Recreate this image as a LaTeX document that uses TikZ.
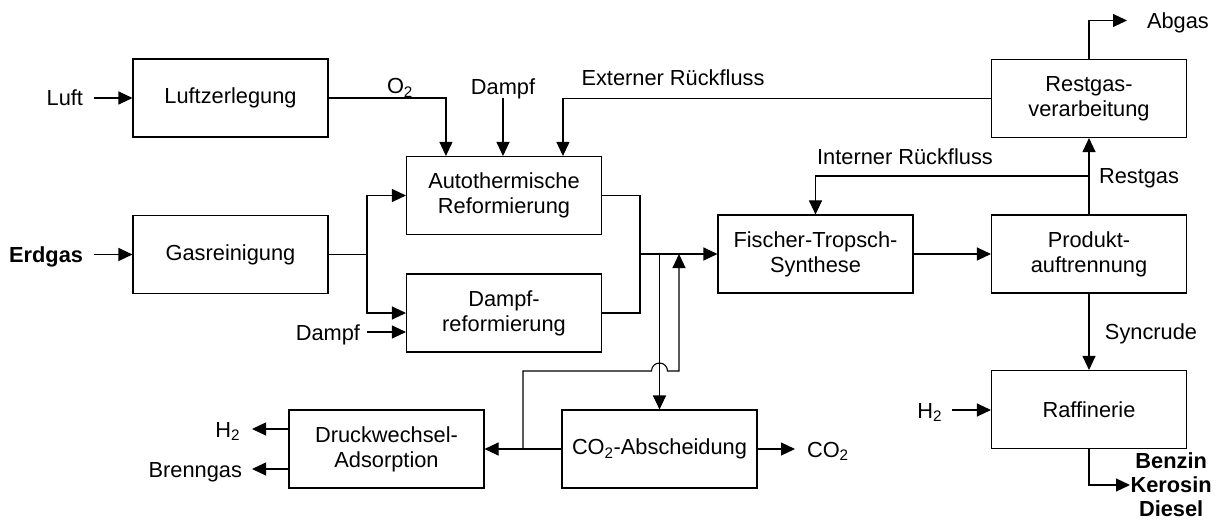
\documentclass[tikz,border=0pt]{standalone}
\usepackage{fontspec}
\setmainfont{Liberation Sans}
\usetikzlibrary{arrows.meta}
\begin{document}
\begin{tikzpicture}[x=1pt,y=-1pt,line width=1.1pt,
  font=\fontsize{21.8}{25}\selectfont,
  box/.style={draw, minimum width=195pt, minimum height=78pt, align=center, inner sep=0pt},
  lbl/.style={inner sep=0pt, text height=16pt, text depth=0pt},
  bold/.style={font=\fontsize{21.8}{24}\selectfont\bfseries},
  arr/.style={-{Triangle[length=14pt,width=13pt]}}
]
\useasboundingbox (0,0) rectangle (1217,521);
% boxes
\node[box] (luft) at (230.5,98) {Luftzerlegung};
\node[box] (gas) at (230.5,254.5) {Gasreinigung};
\node[box] (atr) at (504,195.5) {Autothermische\\Reformierung};
\node[box] (dref) at (504,313) {Dampf-\\reformierung};
\node[box] (ft) at (815.5,254) {Fischer-Tropsch-\\Synthese};
\node[box] (rest) at (1089,98.5) {Restgas-\\verarbeitung};
\node[box] (prod) at (1089,254) {Produkt-\\auftrennung};
\node[box] (raff) at (1089,409.5) {Raffinerie};
\node[box] (co2) at (659.5,449) {CO\textsubscript{2}-Abscheidung};
\node[box] (dwa) at (386.5,449) {Druckwechsel-\\Adsorption};
% labels
\node[lbl,anchor=east,outer sep=11pt] (tLuft) at (94,98) {Luft};
\node[lbl,bold,anchor=east,outer sep=11pt] (tErd) at (94,254.5) {Erdgas};
\node[lbl,anchor=east,outer sep=7pt] (tDampfB) at (367,332) {Dampf};
\node[lbl,anchor=south,outer sep=3pt] (tDampfA) at (503,98) {Dampf};
\node[lbl] (tO2) at (400,86) {O\textsubscript{2}};
\node[lbl] (tExt) at (673,78) {Externer Rückfluss};
\node[lbl] (tInt) at (905,156.5) {Interner Rückfluss};
\node[lbl] (tRest) at (1139,175.5) {Restgas};
\node[lbl] (tSyn) at (1151,331) {Syncrude};
\node[lbl,anchor=west,outer sep=20pt] (tAbgas) at (1127,20.5) {Abgas};
\node[lbl,anchor=east,outer sep=10pt] (tH2r) at (952,410) {H\textsubscript{2}};
\node[lbl,anchor=west,outer sep=12pt] (tCO2) at (795,449) {CO\textsubscript{2}};
\node[lbl,anchor=east,outer sep=12pt] (tH2d) at (252,429) {H\textsubscript{2}};
\node[lbl,anchor=east,outer sep=10pt] (tBrenn) at (252,469) {Brenngas};
\node[bold,align=center,inner sep=0pt,anchor=west] (tProd) at (1130,485) {Benzin\\Kerosin\\Diesel};
% junctions
\coordinate (br1) at (367,254.5);
\coordinate (j1) at (640,254);
\coordinate (j2) at (659.5,254);
\coordinate (j3) at (523,449);
\coordinate (lp1) at (523,371);
\coordinate (hop) at (651.5,371);
\coordinate (lp2) at (679,371);
\coordinate (j4) at (679,254);
\coordinate (j5) at (1089,176);
% connectors
\draw[arr] (tLuft) -- (luft);
\draw[arr] (tErd) -- (gas);
\draw (gas) -- (br1);
\draw[arr] (br1) |- (atr);
\draw[arr] (br1) |- (dref);
\draw[arr] (tDampfB) -- (tDampfB -| dref.west);
\draw[arr] (luft) -| ([xshift=40pt]atr.north west);
\draw[arr] (tDampfA) -- (tDampfA |- atr.north);
\draw[arr] (rest) -| ([xshift=157pt]atr.north west);
\draw (atr) -| (j1);
\draw (dref) -| (j1);
\draw[arr] (j1) -- (ft);
\draw[arr] (j2) -- (co2);
\draw[arr] (co2) -- (dwa);
\draw[arr] (j3) -- (lp1) -- (hop) arc[start angle=180,end angle=360,radius=8] -- (lp2) -- (j4);
\draw[arr] (co2) -- (tCO2);
\draw[arr] (dwa.west |- tH2d) -- (tH2d);
\draw[arr] (dwa.west |- tBrenn) -- (tBrenn);
\draw[arr] (ft) -- (prod);
\draw[arr] (prod) -- (rest);
\draw[arr] (j5) -| (ft);
\draw[arr] (rest) |- (tAbgas);
\draw[arr] (prod) -- (raff);
\draw[arr] (tH2r) -- (tH2r -| raff.west);
\draw[arr] (raff) |- (tProd);
\end{tikzpicture}
\end{document}
